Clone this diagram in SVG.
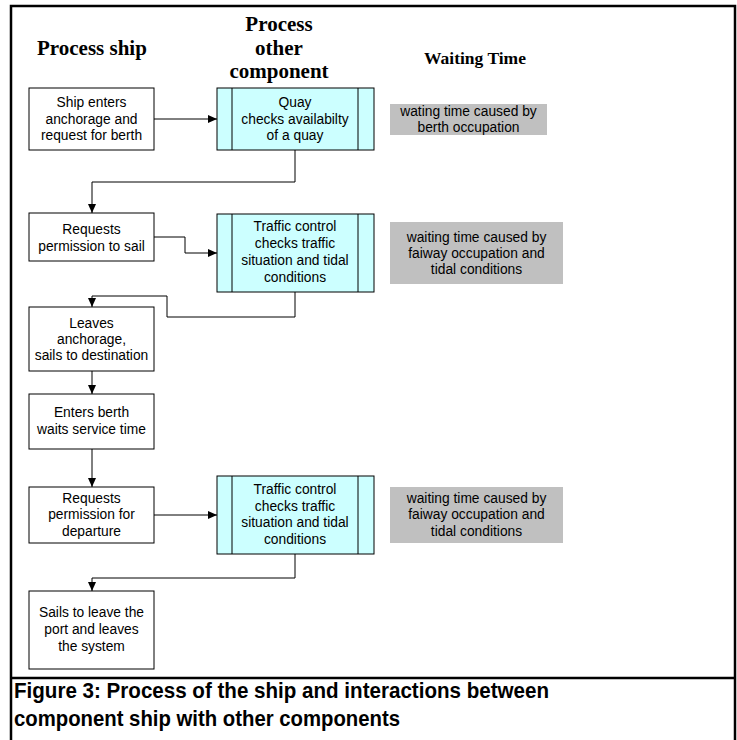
<svg xmlns="http://www.w3.org/2000/svg" width="737" height="740" viewBox="0 0 737 740">
<style>
.frame{fill:none;stroke:#000;stroke-width:2.5}
.box{fill:#fff;stroke:#000;stroke-width:1}
.proc{fill:#ccffff;stroke:#000;stroke-width:1}
.wait{fill:#c0c0c0;stroke:none}
.t{font-family:"Liberation Sans",Arial,sans-serif;font-size:13.8px;fill:#000;text-anchor:middle}
.h{font-family:"Liberation Serif","Times New Roman",serif;font-weight:bold;fill:#000}
.cap{font-family:"Liberation Sans",Arial,sans-serif;font-weight:bold;font-size:22px;fill:#000}
.c{fill:none;stroke:#000;stroke-width:1}
</style>
<defs>
<marker id="ah" markerWidth="9" markerHeight="8" refX="9" refY="4" orient="auto" markerUnits="userSpaceOnUse">
<path d="M0,0 L9,4 L0,8 Z" fill="#000"/>
</marker>
</defs>
<rect x="0" y="0" width="737" height="740" fill="#fff"/>
<g id="frame">
<rect class="frame" x="11" y="6" width="724" height="740"/>
<line x1="11" y1="678" x2="735" y2="678" stroke="#000" stroke-width="2.5"/>
</g>
<g id="headers">
<text class="h" x="37" y="55" font-size="21">Process ship</text>
<text class="h" x="279" y="31" font-size="21" text-anchor="middle">Process</text>
<text class="h" x="279" y="55" font-size="21" text-anchor="middle">other</text>
<text class="h" x="279" y="78" font-size="21" text-anchor="middle">component</text>
<text class="h" x="475" y="64" font-size="17.5" text-anchor="middle">Waiting Time</text>
</g>
<g id="connectors">
<path class="c" d="M154,119 L217,119" marker-end="url(#ah)"/>
<path class="c" d="M295,150 L295,182 L92,182 L92,213" marker-end="url(#ah)"/>
<path class="c" d="M154,237 L185,237 L185,253 L217,253" marker-end="url(#ah)"/>
<path class="c" d="M295,292 L295,317 L167,317 L167,296 L92,296 L92,307" marker-end="url(#ah)"/>
<path class="c" d="M92,371 L92,394" marker-end="url(#ah)"/>
<path class="c" d="M92,449 L92,487" marker-end="url(#ah)"/>
<path class="c" d="M154,515 L217,515" marker-end="url(#ah)"/>
<path class="c" d="M295,554 L295,578 L92,578 L92,591" marker-end="url(#ah)"/>
</g>
<g id="ship-enters">
<rect class="box" x="29" y="88" width="125" height="62"/>
<text class="t" x="91.5" y="107">Ship enters</text>
<text class="t" x="91.5" y="124">anchorage  and</text>
<text class="t" x="91.5" y="140">request for berth</text>
</g>
<g id="quay">
<rect class="proc" x="217" y="88" width="157" height="62"/>
<line class="c" x1="232" y1="88" x2="232" y2="150"/>
<line class="c" x1="358" y1="88" x2="358" y2="150"/>
<text class="t" x="295" y="107">Quay</text>
<text class="t" x="295" y="124">checks availabilty</text>
<text class="t" x="295" y="140">of a quay</text>
</g>
<g id="wait1">
<rect class="wait" x="390" y="104" width="157" height="31"/>
<text class="t" x="468.5" y="116">wating time caused by</text>
<text class="t" x="468.5" y="132">berth occupation</text>
</g>
<g id="request-sail">
<rect class="box" x="29" y="213" width="125" height="48"/>
<text class="t" x="91.5" y="234">Requests</text>
<text class="t" x="91.5" y="251">permission to sail</text>
</g>
<g id="traffic1">
<rect class="proc" x="217" y="214" width="157" height="78"/>
<line class="c" x1="232" y1="214" x2="232" y2="292"/>
<line class="c" x1="358" y1="214" x2="358" y2="292"/>
<text class="t" x="295" y="231">Traffic control</text>
<text class="t" x="295" y="248">checks  traffic</text>
<text class="t" x="295" y="265">situation and tidal</text>
<text class="t" x="295" y="282">conditions</text>
</g>
<g id="wait2">
<rect class="wait" x="390" y="222" width="173" height="62"/>
<text class="t" x="476.5" y="242">waiting time caused by</text>
<text class="t" x="476.5" y="258">faiway occupation and</text>
<text class="t" x="476.5" y="274">tidal conditions</text>
</g>
<g id="leaves-anchorage">
<rect class="box" x="29" y="307" width="125" height="64"/>
<text class="t" x="91.5" y="328">Leaves</text>
<text class="t" x="91.5" y="344">anchorage,</text>
<text class="t" x="91.5" y="360">sails to destination</text>
</g>
<g id="enters-berth">
<rect class="box" x="29" y="394" width="125" height="55"/>
<text class="t" x="91.5" y="417">Enters berth</text>
<text class="t" x="91.5" y="434">waits service time</text>
</g>
<g id="request-departure">
<rect class="box" x="29" y="487" width="125" height="56"/>
<text class="t" x="91.5" y="503">Requests</text>
<text class="t" x="91.5" y="519">permission for</text>
<text class="t" x="91.5" y="536">departure</text>
</g>
<g id="traffic2">
<rect class="proc" x="217" y="476" width="157" height="78"/>
<line class="c" x1="232" y1="476" x2="232" y2="554"/>
<line class="c" x1="358" y1="476" x2="358" y2="554"/>
<text class="t" x="295" y="494">Traffic control</text>
<text class="t" x="295" y="511">checks  traffic</text>
<text class="t" x="295" y="527">situation and tidal</text>
<text class="t" x="295" y="544">conditions</text>
</g>
<g id="wait3">
<rect class="wait" x="390" y="487" width="173" height="56"/>
<text class="t" x="476.5" y="503">waiting time caused by</text>
<text class="t" x="476.5" y="519">faiway occupation and</text>
<text class="t" x="476.5" y="536">tidal conditions</text>
</g>
<g id="sails-leave">
<rect class="box" x="29" y="591" width="125" height="78"/>
<text class="t" x="91.5" y="617">Sails to leave the</text>
<text class="t" x="91.5" y="634">port and leaves</text>
<text class="t" x="91.5" y="651">the system</text>
</g>
<g id="caption">
<text class="cap" x="14" y="698" textLength="535" lengthAdjust="spacingAndGlyphs">Figure 3: Process of the ship and interactions between</text>
<text class="cap" x="14" y="726" textLength="386" lengthAdjust="spacingAndGlyphs">component ship with other components</text>
</g>
</svg>
